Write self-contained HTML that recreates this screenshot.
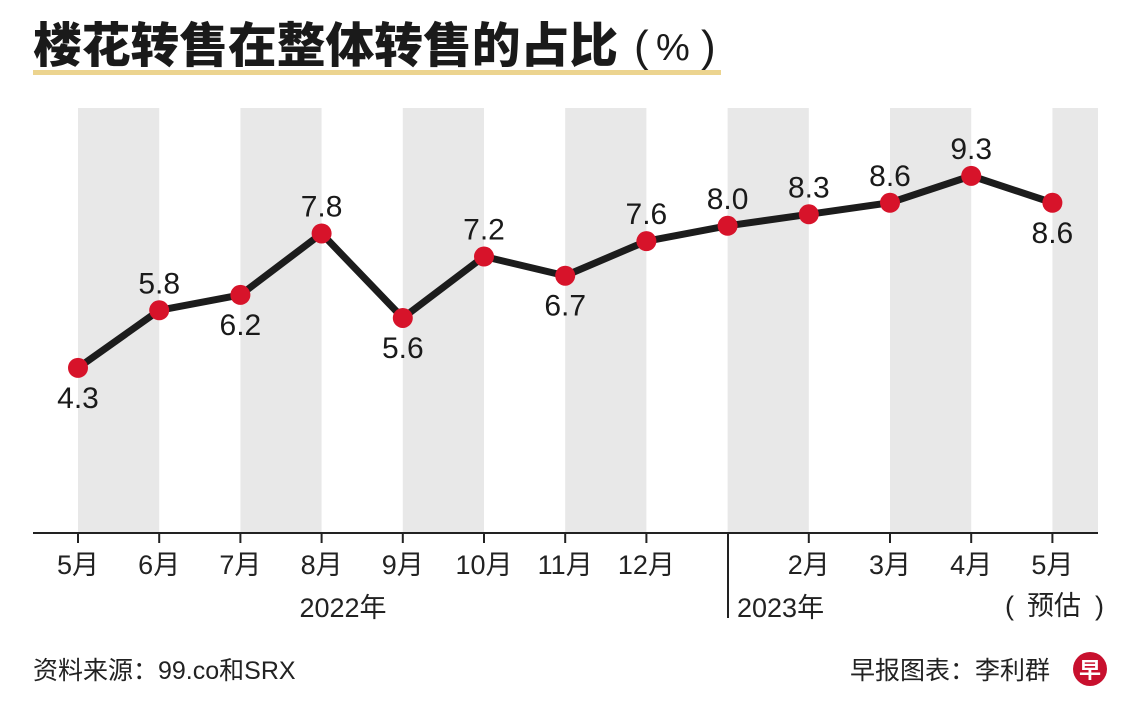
<!DOCTYPE html>
<html><head><meta charset="utf-8"><style>
body{margin:0;background:#fff;}
svg{display:block;font-family:"Liberation Sans","Noto Sans CJK SC",sans-serif;}
</style></head><body>
<svg id="chart" width="1140" height="720" viewBox="0 0 1140 720" xmlns="http://www.w3.org/2000/svg">
<rect width="1140" height="720" fill="#fff"/>
<text x="33" y="62" font-size="48" font-weight="900" fill="#1a1a1a" font-family="'Noto Sans CJK SC',sans-serif" textLength="585" lengthAdjust="spacingAndGlyphs">楼花转售在整体转售的占比</text>
<g font-family="'Liberation Sans',sans-serif" fill="#1a1a1a" font-size="44">
<text x="634" y="61">(</text><text x="656" y="60" font-size="38">%</text><text x="701" y="61">)</text>
</g>
<rect x="33" y="70" width="688" height="5" fill="#ecd48f"/>
<g id="bands"></g>
<line x1="33" y1="533" x2="1098" y2="533" stroke="#222" stroke-width="2"/>
<g id="ticks"></g>
<line x1="728" y1="533" x2="728" y2="618" stroke="#222" stroke-width="2"/>
<g id="series"></g>
<text x="343" y="617" font-size="27" text-anchor="middle" fill="#222">2022年</text>
<text x="737" y="617" font-size="27" fill="#222">2023年</text>
<g fill="#222" font-size="27">
<text x="1005" y="615">(</text><text x="1027" y="615">预估</text><text x="1095" y="615">)</text>
</g>
<text x="33" y="679" font-size="25" fill="#222">资料来源：99.co和SRX</text>
<text x="1050" y="679" font-size="25" text-anchor="end" fill="#222">早报图表：李利群</text>
<circle cx="1090" cy="669" r="17" fill="#c8102e"/>
<text x="1090" y="678" font-size="22" font-weight="bold" text-anchor="middle" fill="#fff" font-family="'Noto Sans CJK SC',sans-serif">早</text>
</svg>
<script>
const months = ["5月","6月","7月","8月","9月","10月","11月","12月","","2月","3月","4月","5月"];
const values = [4.3,5.8,6.2,7.8,5.6,7.2,6.7,7.6,8.0,8.3,8.6,9.3,8.6];
const labelBelow = [true,false,true,false,true,false,true,false,false,false,false,false,true];
const NS="http://www.w3.org/2000/svg";
const x = i => 78 + i*81.2;
const y = v => 533 - v*38.4;
function mk(tag, attrs, parent){const e=document.createElementNS(NS,tag);for(const k in attrs)e.setAttribute(k,attrs[k]);parent.appendChild(e);return e;}
const bands=document.getElementById('bands'), ticks=document.getElementById('ticks'), series=document.getElementById('series');
for(let i=0;i<months.length;i+=2){
  const x2 = i+1<months.length ? x(i+1) : 1098;
  const r=mk('rect',{x:x(i),y:108,width:x2-x(i),height:425,fill:'#e8e8e8'},bands);
  
  
}
months.forEach((m,i)=>{
  if(i!==8){
    const t=mk('line',{x1:x(i),y1:533,x2:x(i),y2:543,stroke:'#222','stroke-width':2},ticks);
    
    
  }
  if(m){
    const l=mk('text',{x:x(i),y:574,'font-size':27,'text-anchor':'middle',fill:'#222'},ticks);
    l.textContent=m;
    
    
  }
});
const pts=values.map((v,i)=>x(i)+','+y(v)).join(' ');
const line=mk('polyline',{points:pts,fill:'none',stroke:'#1c1c1c','stroke-width':7,'stroke-linejoin':'round'},series);


values.forEach((v,i)=>{
  const c=mk('circle',{cx:x(i),cy:y(v),r:10,fill:'#d7132a'},series);
  
  
  const t=mk('text',{x:x(i),y:labelBelow[i]?y(v)+40:y(v)-17,'font-size':30,'text-anchor':'middle',fill:'#1a1a1a'},series);
  t.textContent=v.toFixed(1);
  
  
});
</script>
</body></html>
